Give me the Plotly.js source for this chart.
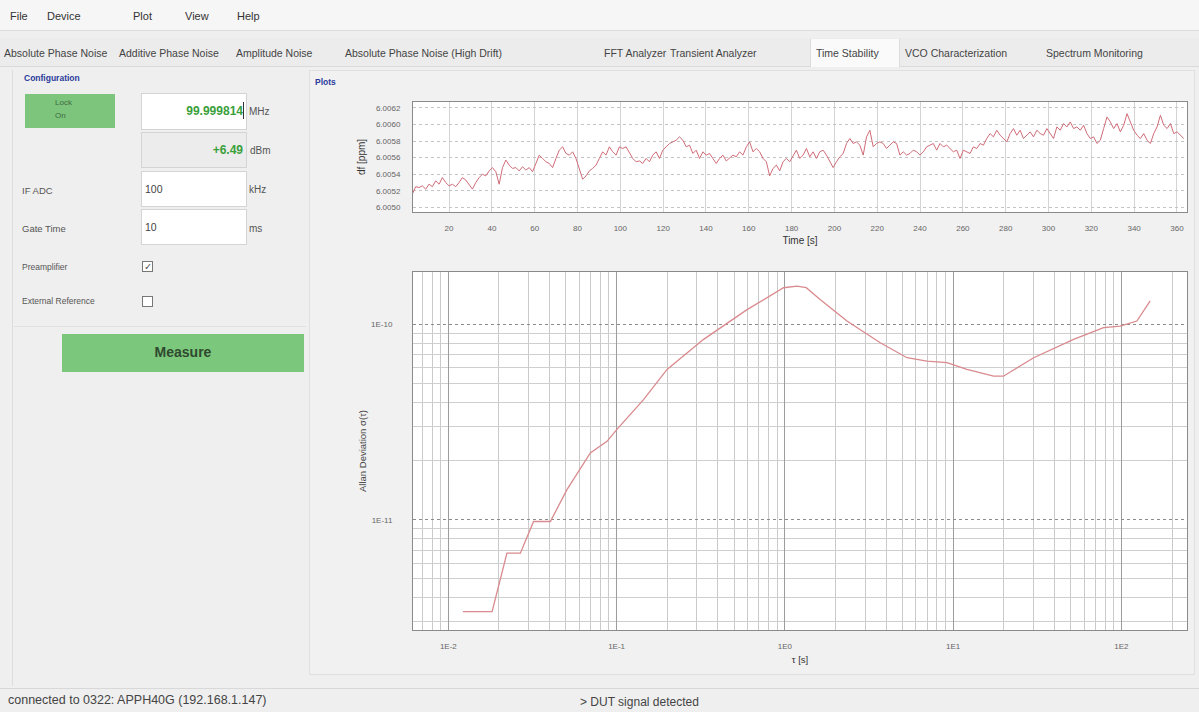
<!DOCTYPE html>
<html>
<head>
<meta charset="utf-8">
<script src="https://cdn.plot.ly/plotly-3.0.1.min.js"></script>
<style>
html,body{margin:0;padding:0;width:1199px;height:712px;overflow:hidden;background:#efefef;
  font-family:"Liberation Sans",Arial,sans-serif;color:#444;}
.a{position:absolute;white-space:nowrap;line-height:1;}
.menu{font-size:11px;color:#333;top:11px;}
.tab{font-size:10.5px;color:#444;top:48px;}
.lbl{font-size:9.5px;color:#555;}
.box{position:absolute;background:#fff;border:1px solid #d4d4d4;box-sizing:border-box;}
.grn{color:#3aa03a;font-weight:bold;font-size:12px;}
.chk{position:absolute;width:11px;height:11px;border:1px solid #777;background:#fff;box-sizing:border-box;font-size:10px;line-height:9px;text-align:center;color:#555;}
#plot{position:absolute;left:0;top:0;width:1199px;height:712px;z-index:5;}
</style>
</head>
<body>
<!-- menu bar -->
<div class="a" style="left:0;top:0;width:1199px;height:30px;background:#f6f6f6;border-bottom:1px solid #dcdcdc;"></div>
<div class="a menu" style="left:10px">File</div>
<div class="a menu" style="left:47px">Device</div>
<div class="a menu" style="left:133px">Plot</div>
<div class="a menu" style="left:185px">View</div>
<div class="a menu" style="left:237px">Help</div>
<!-- tab row -->
<div class="a" style="left:0;top:38px;width:1199px;height:28px;background:#ececec;border-bottom:1px solid #dadada;"></div>
<div class="a" style="left:810px;top:39px;width:88px;height:28px;background:#fafafa;border-left:1px solid #ddd;border-right:1px solid #ddd;"></div>
<div class="a tab" style="left:4px">Absolute Phase Noise</div>
<div class="a tab" style="left:119px">Additive Phase Noise</div>
<div class="a tab" style="left:236px">Amplitude Noise</div>
<div class="a tab" style="left:345px">Absolute Phase Noise (High Drift)</div>
<div class="a tab" style="left:604px">FFT Analyzer</div>
<div class="a tab" style="left:670px">Transient Analyzer</div>
<div class="a tab" style="left:816px">Time Stability</div>
<div class="a tab" style="left:905px">VCO Characterization</div>
<div class="a tab" style="left:1046px">Spectrum Monitoring</div>

<!-- left configuration panel -->
<div class="a" style="left:12px;top:70px;width:296px;height:616px;border-left:1px solid #dcdcdc;"></div>
<div class="a" style="left:24px;top:74px;font-size:8.5px;font-weight:bold;color:#2b3b9b;">Configuration</div>
<div class="a" style="left:25px;top:94px;width:90px;height:34px;background:#7dc57d;"></div>
<div class="a" style="left:55px;top:99px;font-size:8px;color:#3f6a3f;">Lock</div>
<div class="a" style="left:55px;top:112px;font-size:8px;color:#3f6a3f;">On</div>

<div class="box" style="left:141px;top:93px;width:106px;height:37px;"></div>
<div class="a grn" style="right:956px;top:105px;">99.999814</div>
<div class="a" style="left:243px;top:102px;width:1px;height:17px;background:#333;"></div>
<div class="a lbl" style="left:249px;top:107px;font-size:10px;">MHz</div>

<div class="box" style="left:141px;top:132px;width:106px;height:36px;background:#ececec;"></div>
<div class="a grn" style="right:956px;top:144px;">+6.49</div>
<div class="a lbl" style="left:250px;top:146px;font-size:10px;">dBm</div>

<div class="a lbl" style="left:22px;top:186px;">IF ADC</div>
<div class="box" style="left:141px;top:171px;width:106px;height:36px;"></div>
<div class="a lbl" style="left:145px;top:184px;font-size:10.5px;color:#444;">100</div>
<div class="a lbl" style="left:249px;top:185px;font-size:10px;">kHz</div>

<div class="a lbl" style="left:22px;top:224px;">Gate Time</div>
<div class="box" style="left:141px;top:209px;width:106px;height:36px;"></div>
<div class="a lbl" style="left:145px;top:222px;font-size:10.5px;color:#444;">10</div>
<div class="a lbl" style="left:249px;top:224px;font-size:10px;">ms</div>

<div class="a lbl" style="left:22px;top:263px;font-size:8.5px;">Preamplifier</div>
<div class="chk" style="left:142px;top:261px;">✓</div>
<div class="a lbl" style="left:22px;top:297px;font-size:8.5px;">External Reference</div>
<div class="chk" style="left:142px;top:296px;"></div>

<div class="a" style="left:14px;top:326px;width:292px;height:1px;background:#e0e0e0;"></div>
<div class="a" style="left:62px;top:334px;width:242px;height:38px;background:#7bc77b;"></div>
<div class="a" style="left:62px;top:345px;width:242px;text-align:center;font-size:14px;font-weight:bold;color:#2f4a2f;">Measure</div>

<!-- plots panel -->
<div class="a" style="left:309px;top:70px;width:886px;height:605px;border:1px solid #e0e0e0;background:#f1f1f1;box-sizing:border-box;"></div>
<div class="a" style="left:315px;top:78px;font-size:8.5px;font-weight:bold;color:#2b3b9b;">Plots</div>

<!-- status bar -->
<div class="a" style="left:0;top:688px;width:1199px;height:1px;background:#d8d8d8;"></div>
<div class="a" style="left:8px;top:694px;font-size:12.5px;color:#444;">connected to 0322: APPH40G (192.168.1.147)</div>
<div class="a" style="left:580px;top:696px;font-size:12px;color:#444;">&gt; DUT signal detected</div>

<div id="plot"></div>

<script>
// ---- data: frequency deviation time series ----
const sampleStart = 2.84;   // s, time of first sample
const sampleStep = 1.56;    // s, sample spacing
const dfValues = [
  6.00516, 6.00525, 6.00524, 6.00526, 6.00522, 6.00528, 6.00525, 6.00532, 6.00528, 6.00536,
  6.00530, 6.00526, 6.00528, 6.00525, 6.00530, 6.00536, 6.00533, 6.00528, 6.00522, 6.00530,
  6.00536, 6.00540, 6.00538, 6.00544, 6.00548, 6.00543, 6.00528, 6.00548, 6.00557, 6.00551,
  6.00547, 6.00548, 6.00544, 6.00549, 6.00545, 6.00548, 6.00543, 6.00553, 6.00563, 6.00559,
  6.00555, 6.00553, 6.00548, 6.00559, 6.00569, 6.00573, 6.00565, 6.00563, 6.00567, 6.00559,
  6.00547, 6.00534, 6.00538, 6.00544, 6.00547, 6.00551, 6.00559, 6.00567, 6.00563, 6.00573,
  6.00567, 6.00563, 6.00573, 6.00571, 6.00573, 6.00565, 6.00559, 6.00555, 6.00556, 6.00553,
  6.00559, 6.00555, 6.00563, 6.00567, 6.00559, 6.00569, 6.00573, 6.00577, 6.00579,
  6.00581, 6.00585, 6.00581, 6.00573, 6.00575, 6.00565, 6.00569, 6.00559, 6.00567, 6.00563,
  6.00565, 6.00559, 6.00553, 6.00559, 6.00563, 6.00556, 6.00559, 6.00563, 6.00561, 6.00567,
  6.00563, 6.00573, 6.00579, 6.00567, 6.00571, 6.00567, 6.00559, 6.00555, 6.00538, 6.00547,
  6.00551, 6.00544, 6.00555, 6.00559, 6.00555, 6.00563, 6.00569, 6.00559, 6.00563, 6.00571,
  6.00561, 6.00567, 6.00559, 6.00567, 6.00569, 6.00563, 6.00555, 6.00548, 6.00555, 6.00561,
  6.00565, 6.00577, 6.00583, 6.00577, 6.00579, 6.00575, 6.00563, 6.00585, 6.00593, 6.00573,
  6.00577, 6.00579, 6.00577, 6.00571, 6.00575, 6.00579, 6.00577, 6.00563, 6.00567, 6.00563,
  6.00565, 6.00569, 6.00567, 6.00563, 6.00567, 6.00573, 6.00575, 6.00577,
  6.00569, 6.00577, 6.00573, 6.00575, 6.00571, 6.00567, 6.00569, 6.00559, 6.00569, 6.00567,
  6.00565, 6.00573, 6.00571, 6.00577, 6.00575, 6.00583, 6.00589, 6.00585, 6.00593, 6.00587,
  6.00583, 6.00579, 6.00589, 6.00595, 6.00587, 6.00593, 6.00583, 6.00587, 6.00591, 6.00585,
  6.00593, 6.00589, 6.00587, 6.00595, 6.00589, 6.00583, 6.00597, 6.00593, 6.00601, 6.00597,
  6.00603, 6.00595, 6.00597, 6.00593, 6.00599, 6.00589, 6.00583, 6.00585, 6.00577, 6.00581,
  6.00595, 6.00609, 6.00603, 6.00595, 6.00601, 6.00591, 6.00599, 6.00613, 6.00603, 6.00593,
  6.00587, 6.00583, 6.00589, 6.00581, 6.00577, 6.00589, 6.00597, 6.00611, 6.00599, 6.00595,
  6.00601, 6.00589, 6.00591, 6.00587, 6.00583
];
const timeTicks = [20, 40, 60, 80, 100, 120, 140, 160, 180, 200, 220, 240, 260, 280, 300, 320, 340, 360];
const dfTicks = [6.0050, 6.0052, 6.0054, 6.0056, 6.0058, 6.0060, 6.0062];

// ---- data: Allan deviation ----
const tauValues = [0.0122, 0.0182, 0.0223, 0.0268, 0.0321, 0.0404, 0.0507, 0.0698, 0.0877, 0.1005,
  0.1446, 0.1994, 0.329, 0.596, 0.982, 1.18, 1.34, 1.62, 2.34, 3.69, 5.32, 6.99, 9.19, 12.08,
  17.4, 19.9, 30.1, 52.0, 78.4, 98.4, 123.6, 148.3];
const adevValues = [3.39e-12, 3.39e-12, 6.75e-12, 6.75e-12, 9.8e-12, 9.8e-12, 1.426e-11, 2.2e-11,
  2.52e-11, 2.9e-11, 4.12e-11, 5.88e-11, 8.38e-11, 1.19e-10, 1.54e-10, 1.57e-10, 1.54e-10,
  1.342e-10, 1.04e-10, 8.05e-11, 6.75e-11, 6.48e-11, 6.37e-11, 5.88e-11, 5.43e-11, 5.43e-11,
  6.75e-11, 8.38e-11, 9.62e-11, 9.8e-11, 1.04e-10, 1.32e-10];
const tauTickVals = [0.01, 0.1, 1, 10, 100];
const tauTickText = ['1E-2', '1E-1', '1E0', '1E1', '1E2'];
const adevTickVals = [1e-11, 1e-10];
const adevTickText = ['1E-11', '1E-10'];

function logMinor(lo, hi) {
  const out = [];
  for (let e = lo; e <= hi; e++) for (let m = 2; m <= 9; m++) out.push(m * Math.pow(10, e));
  return out;
}

const W = 1199, H = 712;
const xDom = [413 / W, 1187 / W];
const font = {family: '"Liberation Sans", Arial, sans-serif', size: 8, color: '#666'};
const hidden = 'rgba(0,0,0,0)';

const traces = [
  {type: 'scatter', mode: 'lines', y: dfValues, x0: sampleStart, dx: sampleStep,
   xaxis: 'x', yaxis: 'y', line: {color: '#d06c78', width: 1}, hoverinfo: 'skip'},
  {type: 'scatter', mode: 'lines', x: tauValues, y: adevValues,
   xaxis: 'x2', yaxis: 'y2', line: {color: '#d98a8e', width: 1.3}, hoverinfo: 'skip'}
];

const frame = {showline: true, mirror: true, linecolor: '#8a8a8a', linewidth: 1, zeroline: false};

const layout = {
  width: W, height: H, margin: {l: 0, r: 0, t: 0, b: 0},
  paper_bgcolor: 'rgba(0,0,0,0)', plot_bgcolor: '#ffffff',
  showlegend: false, font: font,
  xaxis: Object.assign({}, frame, {
    domain: xDom, anchor: 'y', range: [3.15, 364.7],
    tickmode: 'array', tickvals: timeTicks, ticks: 'outside', ticklen: 8, tickcolor: hidden,
    showgrid: true, gridcolor: '#d4d4d4', gridwidth: 1,
    tickfont: {size: 8, color: '#666'},
    title: {text: 'Time [s]', font: {size: 10, color: '#333'}, standoff: 5}
  }),
  yaxis: Object.assign({}, frame, {
    domain: [1 - 212 / H, 1 - 102 / H], anchor: 'x',
    range: [6.004945, 6.00627], tickmode: 'array', tickvals: dfTicks, tickformat: '.4f',
    ticks: 'outside', ticklen: 10, tickcolor: hidden,
    showgrid: true, gridcolor: '#c4c4c4', griddash: 'dot',
    tickfont: {size: 8, color: '#666'},
    title: {text: 'df [ppm]', font: {size: 10, color: '#333'}, standoff: 8}
  }),
  xaxis2: Object.assign({}, frame, {
    type: 'log', domain: xDom, anchor: 'y2', range: [-2.21, 2.39],
    tickmode: 'array', tickvals: tauTickVals, ticktext: tauTickText,
    ticks: 'outside', ticklen: 8, tickcolor: hidden,
    showgrid: true, gridcolor: '#9c9c9c', griddash: 'solid',
    minor: {tickmode: 'array', tickvals: logMinor(-3, 2), showgrid: true,
            gridcolor: '#cacaca', griddash: 'solid', ticks: ''},
    tickfont: {size: 8, color: '#666'},
    title: {text: 'τ [s]', font: {size: 9.5, color: '#333'}, standoff: 6}
  }),
  yaxis2: Object.assign({}, frame, {
    type: 'log', domain: [1 - 630 / H, 1 - 272 / H], anchor: 'x2', range: [-11.564, -9.732],
    tickmode: 'array', tickvals: adevTickVals, ticktext: adevTickText,
    ticks: 'outside', ticklen: 18, tickcolor: hidden,
    showgrid: true, gridcolor: '#8c8c8c', griddash: 'dot',
    minor: {tickmode: 'array', tickvals: logMinor(-12, -10), showgrid: true,
            gridcolor: '#cfcfcf', griddash: 'solid', ticks: ''},
    tickfont: {size: 8, color: '#666'},
    title: {text: 'Allan Deviation σ(τ)', font: {size: 9.5, color: '#444'}, standoff: 2}
  })
};

Plotly.newPlot('plot', traces, layout, {staticPlot: true, displayModeBar: false});
</script>
</body>
</html>
